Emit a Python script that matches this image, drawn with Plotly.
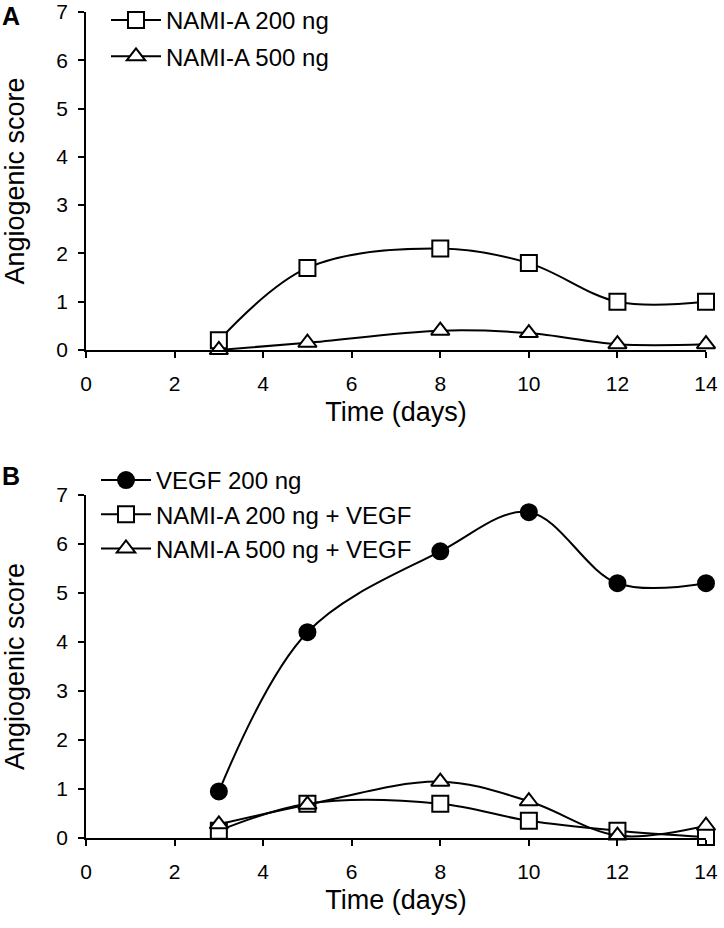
import plotly.graph_objects as go

days = [3, 5, 8, 10, 12, 14]
a_nami200 = [0.2, 1.7, 2.1, 1.8, 1.0, 1.0]
a_nami500 = [0.0, 0.15, 0.4, 0.35, 0.12, 0.12]
b_vegf = [0.95, 4.2, 5.85, 6.65, 5.2, 5.2]
b_nami200 = [0.15, 0.7, 0.7, 0.35, 0.15, 0.02]
b_nami500 = [0.28, 0.68, 1.15, 0.75, 0.05, 0.25]

FONT = "Liberation Sans, Arial, sans-serif"
TICK = 21
TITLE = 27
LEG = 24

W, H = 724, 928
L, R, T, B = 86, 18, 12, 90
PH = H - T - B
PW = W - L - R

fig = go.Figure()

def add(x, y, name, symbol, fillcolor, xa, ya, legend, grp):
    fig.add_trace(go.Scatter(
        x=x, y=y, name=name, mode="lines+markers",
        line=dict(color="black", width=2, shape="spline", smoothing=1),
        marker=dict(symbol=symbol, size=16, color=fillcolor,
                    line=dict(color="black", width=2)),
        xaxis=xa, yaxis=ya, legend=legend, legendgroup=grp, cliponaxis=False))

add(days, a_nami200, "NAMI-A 200 ng", "square", "white", "x", "y", "legend", "a1")
add(days, a_nami500, "NAMI-A 500 ng", "triangle-up", "white", "x", "y", "legend", "a2")
add(days, b_vegf, "VEGF 200 ng", "circle", "black", "x2", "y2", "legend2", "b1")
add(days, b_nami200, "NAMI-A 200 ng + VEGF", "square", "white", "x2", "y2", "legend2", "b2")
add(days, b_nami500, "NAMI-A 500 ng + VEGF", "triangle-up", "white", "x2", "y2", "legend2", "b3")

axis_common = dict(showline=True, linecolor="black", linewidth=1.5,
                   ticks="outside", ticklen=6, tickcolor="black", tickwidth=1.5,
                   showgrid=False, zeroline=False,
                   tickfont=dict(family=FONT, size=TICK, color="black"))
xcommon = dict(axis_common, range=[0, 14], tickvals=[0, 2, 4, 6, 8, 10, 12, 14],
               ticklabelstandoff=8,
               title=dict(text="Time (days)", font=dict(family=FONT, size=TITLE, color="black"), standoff=8))
ycommon = dict(axis_common, range=[0, 7], tickvals=[0, 1, 2, 3, 4, 5, 6, 7],
               ticklabelstandoff=6,
               title=dict(text="Angiogenic score", font=dict(family=FONT, size=TITLE, color="black"), standoff=26))

legend_common = dict(font=dict(family=FONT, size=LEG, color="black"), bgcolor="rgba(0,0,0,0)",
                     itemwidth=50, traceorder="grouped",
                     xanchor="left", yanchor="top", itemclick=False, yref="paper", xref="paper")

a_top, a_bot = 12, 350
b_top, b_bot = 495, 838
def py(p):
    return (H - B - p) / PH

fig.update_layout(
    width=W, height=H,
    margin=dict(l=L, r=R, t=T, b=B, autoexpand=False),
    paper_bgcolor="white", plot_bgcolor="white",
    showlegend=True,
    xaxis=dict(xcommon, domain=[0, 1], anchor="y"),
    yaxis=dict(ycommon, domain=[py(a_bot), py(a_top)], anchor="x"),
    xaxis2=dict(xcommon, domain=[0, 1], anchor="y2"),
    yaxis2=dict(ycommon, domain=[py(b_bot), py(b_top)], anchor="x2"),
    legend=dict(legend_common, x=20 / PW, y=py(-2), tracegroupgap=2),
    legend2=dict(legend_common, x=10 / PW, y=py(458), tracegroupgap=0),
    annotations=[
        dict(text="<b>A</b>", x=-L / PW, y=py(0), xref="paper", yref="paper", showarrow=False,
             xanchor="left", yanchor="top", font=dict(family=FONT, size=25, color="black")),
        dict(text="<b>B</b>", x=-L / PW, y=py(460), xref="paper", yref="paper", showarrow=False,
             xanchor="left", yanchor="top", font=dict(family=FONT, size=25, color="black")),
    ],
)

fig.write_html("out.html", config={"displayModeBar": False},
               post_script="document.body.style.margin='0';document.body.style.padding='0';")
